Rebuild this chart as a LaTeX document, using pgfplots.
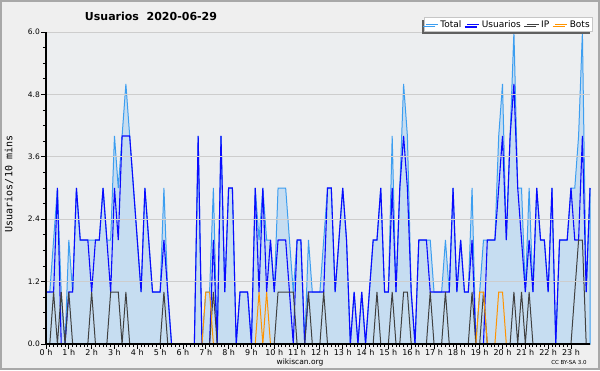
\documentclass[border=0pt]{standalone}
\usepackage{fontspec}
\setmainfont{DejaVu Sans}
\setmonofont{DejaVu Sans Mono}
\usepackage{pgfplots}
\usepackage{pgfplotstable}
\pgfplotsset{compat=1.18}
\usetikzlibrary{shadows}

\definecolor{outerbg}{HTML}{EFEFEF}
\definecolor{plotbg}{HTML}{ECEEF0}
\definecolor{framec}{HTML}{A8A8A8}
\definecolor{gridc}{HTML}{CDCDCD}
\definecolor{totfill}{HTML}{C6DDF1}
\definecolor{totline}{HTML}{3C9EF0}
\definecolor{usrline}{HTML}{0A0AFF}
\definecolor{ipline}{HTML}{404040}
\definecolor{botline}{HTML}{FF9400}

\pgfplotstableread{
i T U IP B
0 1 1 0 0
1 1 1 0 0
2 2 1 1 0
3 3 3 0 0
4 1 0 1 0
5 0 0 0 0
6 2 1 1 0
7 1 1 0 0
8 3 3 0 0
9 2 2 0 0
10 2 2 0 0
11 2 2 0 0
12 2 1 1 0
13 2 2 0 0
14 2 2 0 0
15 3 3 0 0
16 2 2 0 0
17 2 1 1 0
18 4 3 1 0
19 3 2 1 0
20 4 4 0 0
21 5 4 1 0
22 4 4 0 0
23 3 3 0 0
24 2 2 0 0
25 1 1 0 0
26 3 3 0 0
27 2 2 0 0
28 1 1 0 0
29 1 1 0 0
30 1 1 0 0
31 3 2 1 0
32 1 1 0 0
33 0 0 0 0
34 0 0 0 0
35 0 0 0 0
36 0 0 0 0
37 0 0 0 0
38 0 0 0 0
39 0 0 0 0
40 4 4 0 0
41 0 0 0 0
42 1 0 0 1
43 1 0 0 1
44 3 2 1 0
45 0 0 0 0
46 4 4 0 0
47 1 1 0 0
48 3 3 0 0
49 3 3 0 0
50 0 0 0 0
51 1 1 0 0
52 1 1 0 0
53 1 1 0 0
54 0 0 0 0
55 3 3 0 0
56 2 1 0 1
57 3 3 0 0
58 2 1 0 1
59 2 2 0 0
60 1 1 0 0
61 3 2 1 0
62 3 2 1 0
63 3 2 1 0
64 2 1 1 0
65 1 0 1 0
66 2 2 0 0
67 2 2 0 0
68 0 0 0 0
69 2 1 1 0
70 1 1 0 0
71 1 1 0 0
72 1 1 0 0
73 2 1 1 0
74 3 3 0 0
75 3 3 0 0
76 1 1 0 0
77 2 2 0 0
78 3 3 0 0
79 2 2 0 0
80 0 0 0 0
81 1 1 0 0
82 0 0 0 0
83 1 1 0 0
84 0 0 0 0
85 1 1 0 0
86 2 2 0 0
87 2 2 1 0
88 3 3 0 0
89 1 1 0 0
90 1 1 0 0
91 4 3 1 0
92 1 1 0 0
93 3 3 0 0
94 5 4 1 0
95 4 3 1 0
96 1 1 0 0
97 0 0 0 0
98 2 2 0 0
99 2 2 0 0
100 2 2 0 0
101 2 1 1 0
102 1 1 0 0
103 1 1 0 0
104 1 1 0 0
105 2 1 1 0
106 1 1 0 0
107 3 3 0 0
108 1 1 0 0
109 2 2 0 0
110 1 1 0 0
111 1 1 0 0
112 3 2 1 0
113 0 0 0 0
114 1 0 0 1
115 2 0 1 1
116 2 2 0 0
117 2 2 0 0
118 2 2 0 0
119 4 3 0 1
120 5 4 0 1
121 2 2 0 0
122 4 4 0 0
123 6 5 1 0
124 3 3 0 0
125 3 2 1 0
126 1 1 0 0
127 3 2 1 0
128 1 1 0 0
129 3 3 0 0
130 2 2 0 0
131 2 2 0 0
132 1 1 0 0
133 3 3 0 0
134 0 0 0 0
135 2 2 0 0
136 2 2 0 0
137 2 2 0 0
138 3 3 0 0
139 3 2 1 0
140 4 2 2 0
141 6 4 2 0
142 1 1 0 0
143 3 3 0 0
}\datatable

\begin{document}
\begin{tikzpicture}[x=1pt,y=1pt]
\fill[outerbg] (0,0) rectangle (600,370);
\draw[framec, line width=2pt] (1,1) rectangle (599,369);
\begin{axis}[
  at={(46pt,26pt)}, anchor=south west,
  scale only axis, width=544pt, height=312pt,
  xmin=0, xmax=143, ymin=0, ymax=6,
  axis on top,
  axis lines*=left,
  axis line style={black, line width=1.3pt},
  axis background/.style={fill=plotbg},
  xtick={0,6,...,138},
  xticklabels={0 h,1 h,2 h,3 h,4 h,5 h,6 h,7 h,8 h,9 h,10 h,11 h,12 h,13 h,14 h,15 h,16 h,17 h,18 h,19 h,20 h,21 h,22 h,23 h},
  minor x tick num=5,
  ytick={0,1.2,2.4,3.6,4.8,6},
  yticklabels={0.0,1.2,2.4,3.6,4.8,6.0},
  minor y tick num=3,
  tick align=outside,
  major tick length=4.5pt, minor tick length=3pt,
  every tick/.style={black, line width=0.9pt},
  ymajorgrids, grid style={gridc, line width=1pt},
  xticklabel style={font=\fontsize{8}{9}\selectfont, inner sep=1pt},
  yticklabel style={font=\fontsize{7.5}{9}\selectfont, inner sep=1.5pt},
  clip=false,
  legend columns=4,
  legend image code/.code={\draw[#1, line width=1pt] (0pt,0pt) -- (12pt,0pt);},
  legend style={at={(1.0055,1.048)}, anchor=north east,
    fill=white, draw=gray!45, line width=0.6pt,
    font=\fontsize{9}{10}\selectfont, inner sep=1pt,
    drop shadow={shadow xshift=-2.5pt, shadow yshift=-2.5pt, fill=gray!75!black, opacity=1},
    /tikz/every even column/.append style={column sep=3.5pt}},
]
\addplot[draw=totline, line width=1pt, fill=totfill] table[x=i, y=T] {\datatable} \closedcycle;
\addlegendentry{Total}
\addplot[usrline, line width=1.1pt] table[x=i, y=U] {\datatable};
\addlegendentry{Usuarios}
\addplot[ipline, line width=1pt] table[x=i, y=IP] {\datatable};
\addlegendentry{IP}
\addplot[botline, line width=1pt] table[x=i, y=B] {\datatable};
\addlegendentry{Bots}
\end{axis}
\node[anchor=base, font=\bfseries\fontsize{11}{13}\selectfont] at (151,349) {Usuarios\hspace{0.7em}2020-06-29};
\node[rotate=90, font=\ttfamily\fontsize{10}{12}\selectfont] at (9,186) {Usuarios/10 mins};
\node[font=\fontsize{7.5}{9}\selectfont] at (300,8) {wikiscan.org};
\node[font=\fontsize{5.5}{7}\selectfont] at (569,8) {CC BY-SA 3.0};
\pgfresetboundingbox
\useasboundingbox (0,0) rectangle (600,370);
\end{tikzpicture}
\end{document}
